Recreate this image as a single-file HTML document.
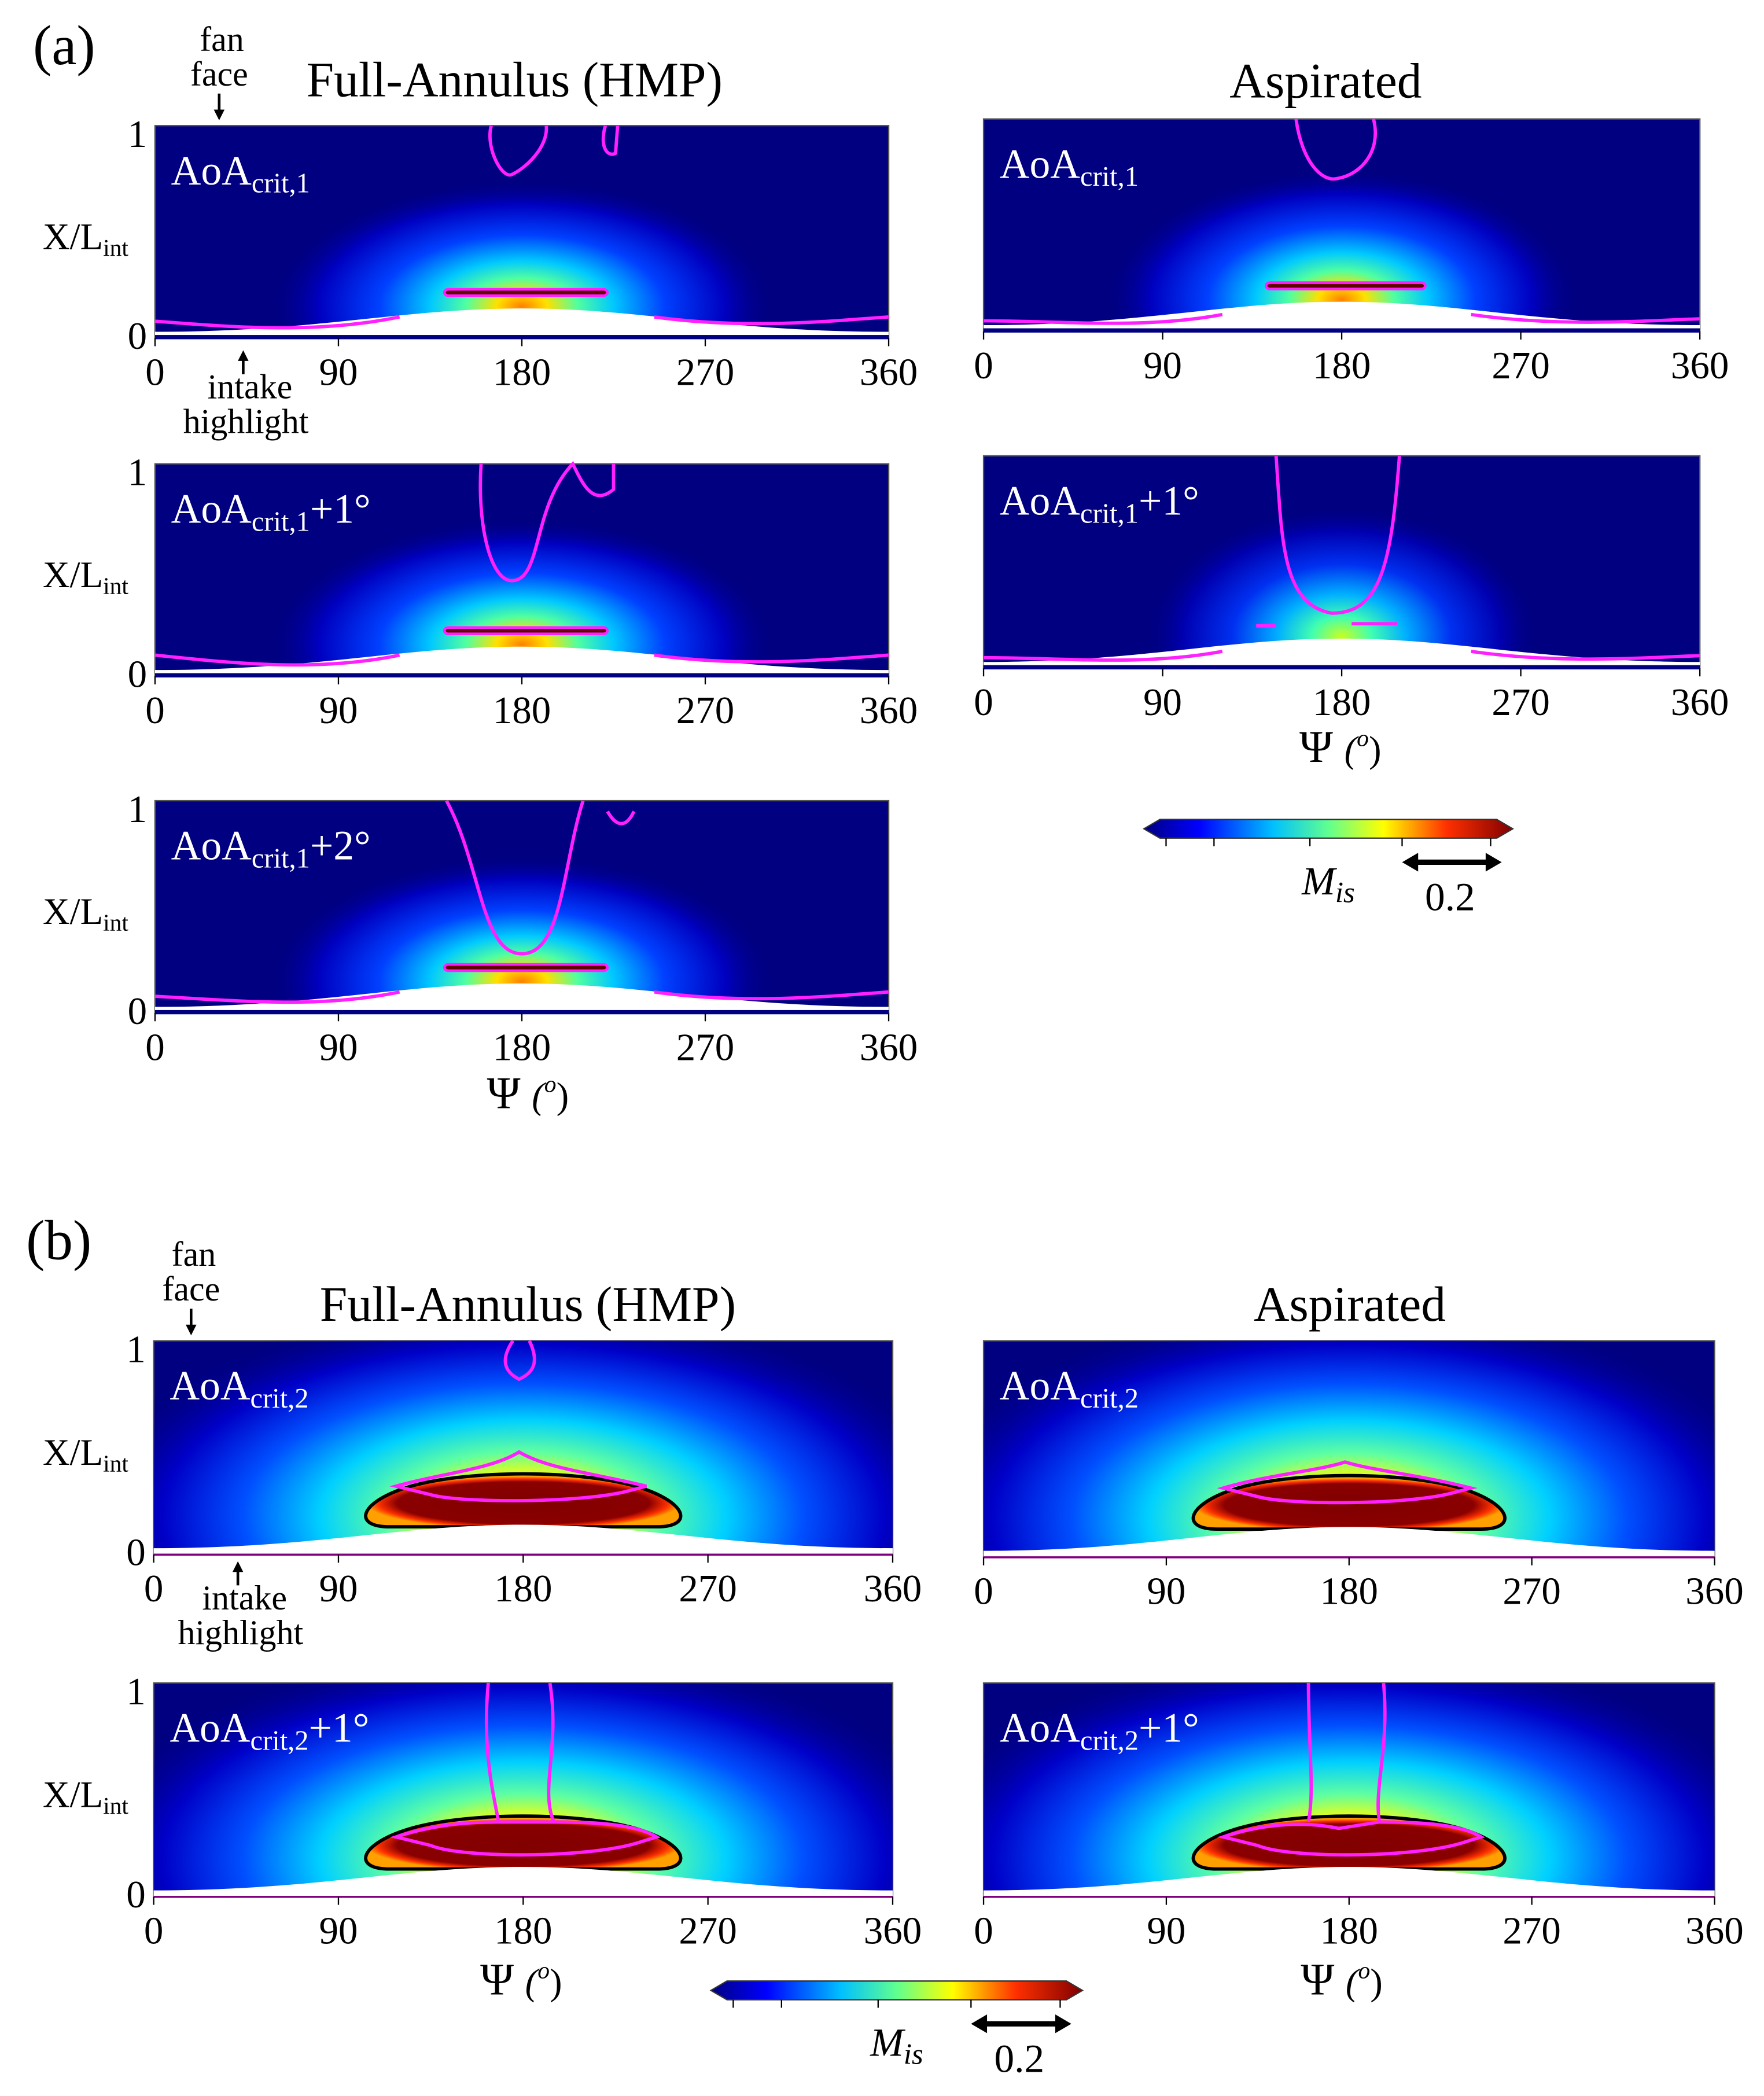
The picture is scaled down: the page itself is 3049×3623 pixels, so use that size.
<!DOCTYPE html>
<html><head><meta charset="utf-8"><style>
html,body{margin:0;padding:0;background:#fff}
svg{display:block}
text{font-family:"Liberation Serif",serif;fill:#000}
</style></head><body>
<svg id="fig" xmlns="http://www.w3.org/2000/svg" width="3049" height="3623" viewBox="0 0 1320 1568" preserveAspectRatio="none">
<defs>
<radialGradient id="glowA" cx="0.5" cy="0.5" r="0.5">
<stop offset="0" stop-color="#ff8000"/><stop offset="0.1" stop-color="#ffe000"/><stop offset="0.22" stop-color="#50ffa0"/><stop offset="0.36" stop-color="#00c8ff"/><stop offset="0.56" stop-color="#0040ff"/><stop offset="0.8" stop-color="#0000c0"/><stop offset="1" stop-color="#000080" stop-opacity="0"/>
</radialGradient>
<radialGradient id="glowA2" cx="0.5" cy="0.5" r="0.5">
<stop offset="0" stop-color="#c8ff20"/><stop offset="0.15" stop-color="#40ffb0"/><stop offset="0.32" stop-color="#00b0ff"/><stop offset="0.55" stop-color="#0030f0"/><stop offset="0.8" stop-color="#0000b0"/><stop offset="1" stop-color="#000080" stop-opacity="0"/>
</radialGradient>
<radialGradient id="glowB" cx="0.5" cy="0.5" r="0.5">
<stop offset="0" stop-color="#ff2000"/><stop offset="0.18" stop-color="#ffff00"/><stop offset="0.3" stop-color="#60ffa0"/><stop offset="0.45" stop-color="#00d0ff"/><stop offset="0.62" stop-color="#0050ff"/><stop offset="0.8" stop-color="#0000c8"/><stop offset="1" stop-color="#000080" stop-opacity="0"/>
</radialGradient>
<radialGradient id="coreB" cx="0.5" cy="0.55" r="0.5">
<stop offset="0" stop-color="#800000"/><stop offset="0.8" stop-color="#8a0000"/><stop offset="0.92" stop-color="#ff3000"/><stop offset="1" stop-color="#ffa000"/>
</radialGradient>
<linearGradient id="jet" x1="0" x2="1" y1="0" y2="0">
<stop offset="0" stop-color="#000080"/><stop offset="0.15" stop-color="#0000ff"/><stop offset="0.35" stop-color="#00c0ff"/><stop offset="0.5" stop-color="#60ff90"/><stop offset="0.65" stop-color="#ffff00"/><stop offset="0.82" stop-color="#ff3000"/><stop offset="1" stop-color="#800000"/>
</linearGradient>
</defs>
<g id="content"></g>
</svg>
<script>
const NS="http://www.w3.org/2000/svg";
const xTicks=[0,90,180,270,360];
const yTicks=[1,0];
const panelTitles=["AoAcrit,1","AoAcrit,1+1°","AoAcrit,1+2°","AoAcrit,1","AoAcrit,1+1°","AoAcrit,2","AoAcrit,2+1°","AoAcrit,2","AoAcrit,2+1°"];
const panelGroup=["a","a","a","a","a","b","b","b","b"];
const glowWidth=[125,125,125,120,100,220,220,220,220];
const glowHeight=[0.6,0.6,0.6,0.62,0.62,1.0,1.0,1.0,1.0];
const content=document.getElementById('content');
function el(tag,attrs,parent,txt){const e=document.createElementNS(NS,tag);for(const k in attrs)e.setAttribute(k,attrs[k]);if(txt!==undefined)e.textContent=txt;(parent||content).appendChild(e);return e;}
function txt(x,y,s,size,anchor,parent,name,extra){const t=el('text',Object.assign({x:x,y:y,'font-size':size,'text-anchor':anchor||'middle'},extra||{}),parent,s);

return t;}

const boxes=[[116,94,549,159],[116,347,549,159],[116,599,549,159],[736,89,536,159],[736,341,536,159],[115,1003,553,160],[115,1259,553,160],[736,1003,547,162],[736,1259,547,160]];
const magenta=[
 "M0,0.92 C40,0.95 80,0.98 120,0.9 M245,0.9 C290,0.96 330,0.92 360,0.9 M165,0 C162,0.1 170,0.25 175,0.23 C182,0.2 193,0.1 192,0 M221,0 C218,0.1 222,0.15 226,0.13 L227,0",
 "M0,0.9 C40,0.94 80,0.98 120,0.9 M245,0.9 C290,0.96 330,0.92 360,0.9 M160,0 C158,0.3 165,0.55 175,0.55 C190,0.55 185,0.2 205,0 C210,0.1 215,0.2 225,0.12 L225,0",
 "M0,0.92 C40,0.94 80,0.98 120,0.9 M245,0.9 C290,0.96 330,0.92 360,0.9 M143,0 C160,0.3 160,0.72 180,0.72 C200,0.72 200,0.3 210,0 M222,0.05 C225,0.1 230,0.15 235,0.05",
 "M0,0.95 C40,0.95 80,0.99 120,0.92 M245,0.92 C290,0.98 330,0.95 360,0.94 M157,0 C160,0.2 170,0.3 178,0.28 C190,0.26 200,0.15 196,0",
 "M0,0.95 C40,0.95 80,0.99 120,0.92 M245,0.92 C290,0.98 330,0.95 360,0.94 M147,0 C150,0.4 150,0.7 175,0.74 C200,0.74 205,0.5 209,0 M137,0.8 L147,0.8 M185,0.79 L208,0.79",
 "M175,0 C168,0.1 172,0.15 178,0.18 C185,0.15 188,0.1 183,0 M118,0.68 C140,0.62 165,0.6 178,0.52 C192,0.6 215,0.62 240,0.68 L232,0.7 C210,0.76 150,0.76 135,0.72 Z",
 "M163,0 C160,0.3 165,0.5 168,0.65 M193,0 C198,0.3 188,0.5 195,0.65 M118,0.72 C140,0.65 160,0.65 168,0.65 L195,0.65 C215,0.65 235,0.66 245,0.72 L235,0.75 C210,0.82 150,0.82 135,0.76 Z",
 "M118,0.68 C140,0.62 165,0.6 178,0.56 C192,0.6 215,0.62 240,0.68 L232,0.7 C210,0.76 150,0.76 135,0.72 Z",
 "M160,0 C160,0.3 163,0.5 160,0.65 M197,0 C200,0.3 192,0.5 195,0.65 M118,0.72 C140,0.65 160,0.65 175,0.68 L195,0.65 C215,0.65 235,0.66 245,0.72 L235,0.75 C210,0.82 150,0.82 135,0.76 Z"
];
boxes.forEach((b,i)=>{
 const [x0,y0,w,h]=b;
 const g=el('g',{});
 
 
 const sx=v=>x0+v/360*w, sy=v=>y0+v*h;
 el('rect',{x:x0,y:y0,width:w,height:h,fill:'#000080',stroke:'#555','stroke-width':1},g);
 const isB=panelGroup[i]==='b';
 const cy=isB?0.82:0.85;
 const cid='clip'+i;
 const cp=el('clipPath',{id:cid},g);el('rect',{x:x0,y:y0,width:w,height:h},cp);
 const ellipse=el('ellipse',{cx:sx(180),cy:sy(cy),rx:glowWidth[i]/360*w,ry:glowHeight[i]*h,fill:isB?'url(#glowB)':(i===4?'url(#glowA2)':'url(#glowA)'),'clip-path':'url(#'+cid+')'},g);
 
 
 if(isB){
  const core=el('path',{d:`M${sx(115)},${sy(0.87)} C${sx(97)},${sy(0.87)} ${sx(100)},${sy(0.76)} ${sx(122)},${sy(0.69)} C${sx(150)},${sy(0.6)} ${sx(210)},${sy(0.6)} ${sx(238)},${sy(0.69)} C${sx(260)},${sy(0.76)} ${sx(263)},${sy(0.87)} ${sx(245)},${sy(0.87)} Z`,fill:'url(#coreB)',stroke:'#000','stroke-width':2.5},g);
  
  
 } else if(i!==4){
  el('rect',{x:sx(142),y:sy(0.77),width:sx(222)-sx(142),height:h*0.03,rx:3,fill:'#600000',stroke:'#ff20ff','stroke-width':2},g);
 }
 const hump=el('path',{d:`M${sx(0)},${sy(0.97)} C${sx(80)},${sy(0.97)} ${sx(120)},${sy(0.86)} ${sx(180)},${sy(0.86)} C${sx(240)},${sy(0.86)} ${sx(280)},${sy(0.97)} ${sx(360)},${sy(0.97)} L${sx(360)},${sy(1)} L${sx(0)},${sy(1)} Z`,fill:'#fff'},g);
 
 
 if(!isB) el('rect',{x:x0,y:sy(0.985),width:w,height:h*0.02,fill:'#000080'},g);
 else el('line',{x1:x0,x2:x0+w,y1:y0+h,y2:y0+h,stroke:'#800080','stroke-width':1.5},g);
 const m=el('path',{d:magenta[i].replace(/(-?[\d.]+),(-?[\d.]+)/g,(s,a,c)=>sx(+a).toFixed(1)+','+sy(+c).toFixed(1)),fill:'none',stroke:'#ff20ff','stroke-width':2.5},g);
 
 
 const t=panelTitles[i].match(/^(AoA)(crit,\d)(.*)$/);
 const tt=el('text',{x:x0+12,y:y0+44,'font-size':31,style:'fill:#fff'},g);
 
 
 el('tspan',{},tt,t[1]);el('tspan',{'font-size':21,dy:6},tt,t[2]);el('tspan',{dy:-6},tt,t[3]);
 xTicks.forEach(v=>{
  el('line',{x1:sx(v),x2:sx(v),y1:y0+h,y2:y0+h+6,stroke:'#000','stroke-width':1},g);
  txt(sx(v),y0+h+35,String(v),29,'middle',g,'x-tick-label');
 });
 if(boxes[i][0]<400){
  yTicks.forEach((v,k)=>txt(x0-6,k===0?y0+16:y0+h+8,String(v),29,'end',g,'y-tick-label'));
  const yl=el('text',{x:32,y:y0+h*0.58,'font-size':28},g);
  
  
  el('tspan',{},yl,'X/L');el('tspan',{'font-size':18,dy:5},yl,'int');
 }
});
function psi(x,y){const t=el('text',{x:x,y:y,'font-size':34,'text-anchor':'middle'});
 
 
 el('tspan',{},t,'Ψ ');el('tspan',{'font-size':28,'font-style':'italic'},t,'(');el('tspan',{'font-size':18,dy:-12,'font-style':'italic'},t,'o');el('tspan',{'font-size':28,dy:12},t,')');}
psi(395,829);psi(1003,570);psi(390,1492);psi(1004,1492);
txt(48,48,'(a)',42,'middle',null,'panel-a-label');
txt(44,942,'(b)',42,'middle',null,'panel-b-label');
txt(385,72,'Full-Annulus (HMP)',37,'middle',null,'column-title');
txt(992,73,'Aspirated',37,'middle',null,'column-title');
txt(395,988,'Full-Annulus (HMP)',37,'middle',null,'column-title');
txt(1010,988,'Aspirated',37,'middle',null,'column-title');
function annot(x,yTop,up){
 txt(x+2,yTop,'fan',26,'middle',null,'fan-face-label');txt(x,yTop+26,'face',26,'middle',null,'fan-face-label');
 el('line',{x1:x,x2:x,y1:yTop+32,y2:yTop+48,stroke:'#000','stroke-width':2});el('path',{d:`M${x-4},${yTop+44} L${x},${yTop+52} L${x+4},${yTop+44}Z`});
 el('line',{x1:up[0],x2:up[0],y1:up[1],y2:up[1]+14,stroke:'#000','stroke-width':2});el('path',{d:`M${up[0]-4},${up[1]+4} L${up[0]},${up[1]-4} L${up[0]+4},${up[1]+4}Z`});
 txt(up[0]+5,up[1]+32,'intake',26,'middle',null,'intake-highlight-label');txt(up[0]+2,up[1]+58,'highlight',26,'middle',null,'intake-highlight-label');
}
annot(164,38,[182,266]);annot(143,947,[178,1172]);
function cbar(x0,y0,w,name){
 const g=el('g',{});
 el('path',{d:`M${x0},${y0+7} L${x0+12},${y0} L${x0+w-12},${y0} L${x0+w},${y0+7} L${x0+w-12},${y0+14} L${x0+12},${y0+14}Z`,fill:'url(#jet)',stroke:'#333','stroke-width':1},g);
 [0.06,0.19,0.45,0.7,0.94].forEach(f=>el('line',{x1:x0+w*f,x2:x0+w*f,y1:y0+14,y2:y0+20,stroke:'#000'},g));
 const m=el('text',{x:x0+w*0.5,y:y0+56,'font-size':30,'font-style':'italic','text-anchor':'middle'},g);
 el('tspan',{},m,'M');el('tspan',{'font-size':22,dy:6},m,'is');
 el('line',{x1:x0+w*0.72,x2:x0+w*0.95,y1:y0+32,y2:y0+32,stroke:'#000','stroke-width':4},g);
 el('path',{d:`M${x0+w*0.7},${y0+32} l12,-7 l0,14Z M${x0+w*0.97},${y0+32} l-12,-7 l0,14Z`},g);
 txt(x0+w*0.83,y0+68,'0.2',30,'middle',g,'scale-label');
}
cbar(856,613,276,'colorbar-a');cbar(532,1482,278,'colorbar-b');
</script>
</body></html>
